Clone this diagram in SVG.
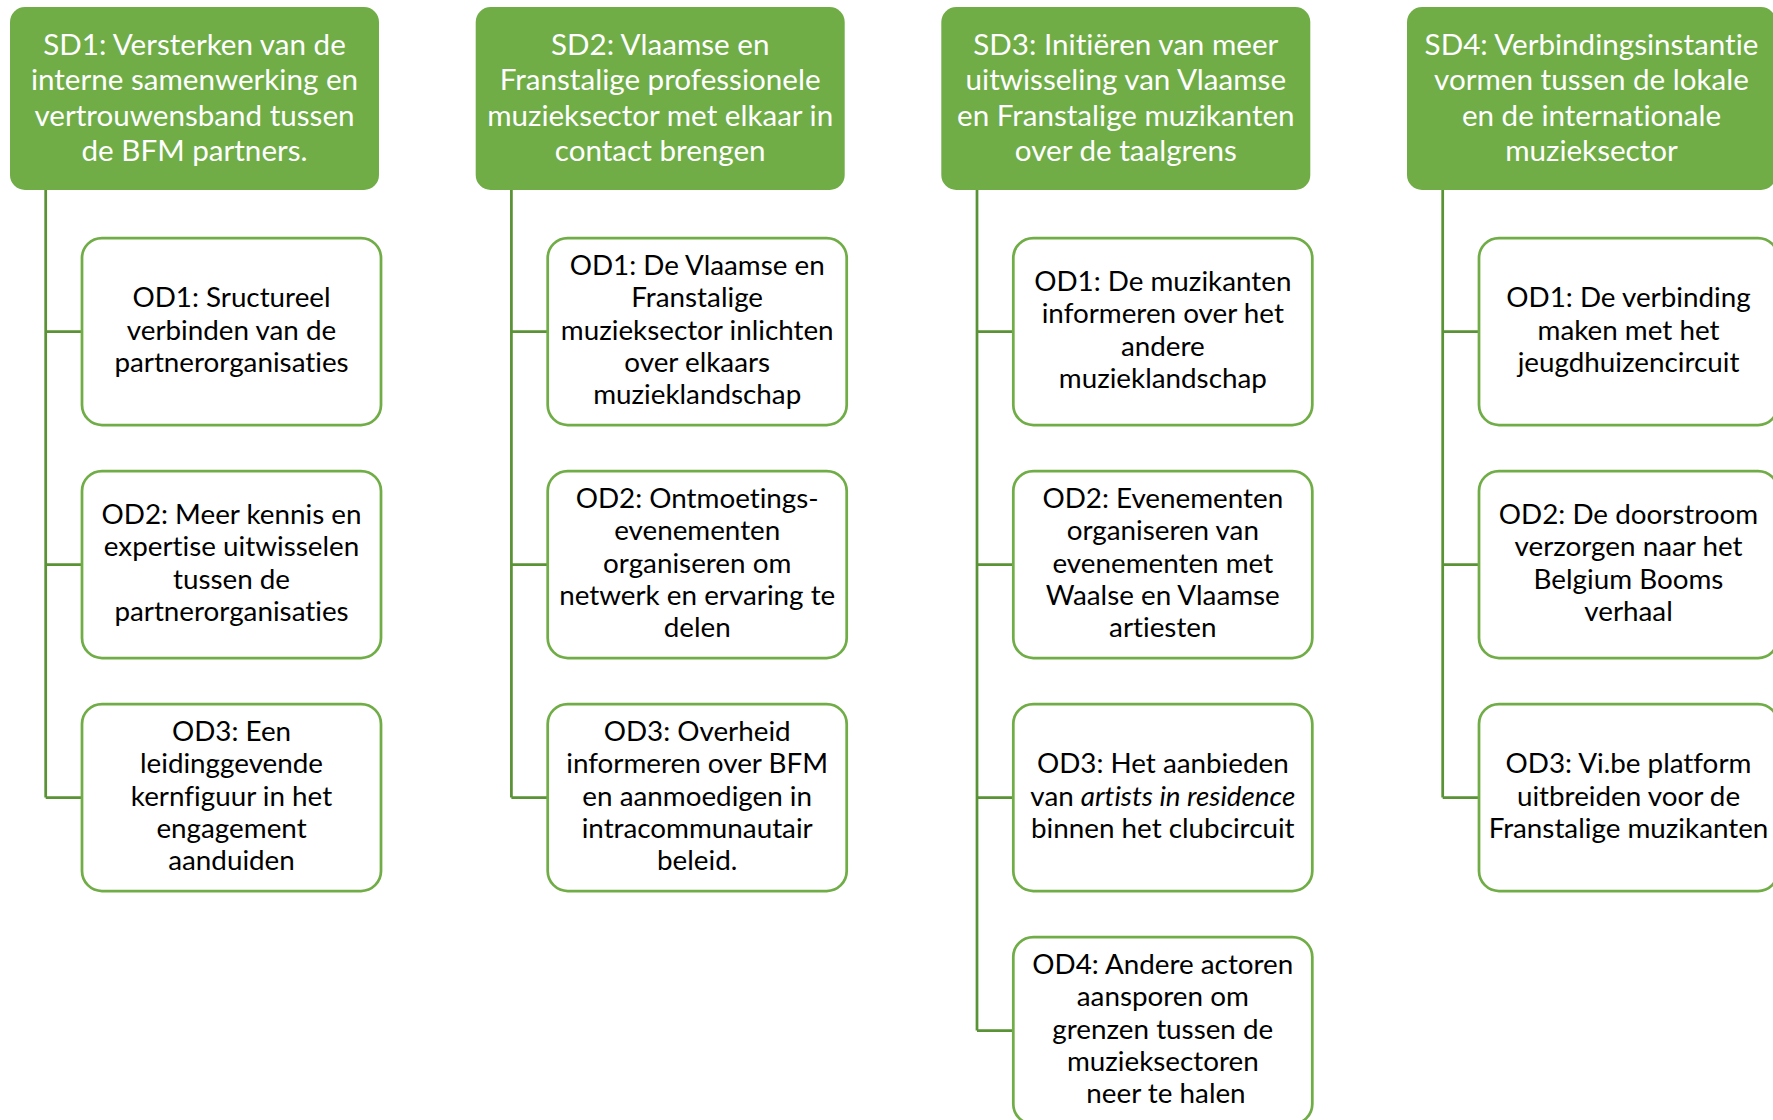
<svg xmlns="http://www.w3.org/2000/svg" width="1773" height="1120" viewBox="0 0 1773 1120">
<style>
.hd{fill:#70AD47;}
.od{fill:#FFFFFF;stroke:#70AD47;stroke-width:2.75;}
.ht{font-family:Lato,"Liberation Sans",sans-serif;font-size:29.6px;fill:#FFFFFF;text-anchor:middle;font-variant-ligatures:none;}
.ot{font-family:Lato,"Liberation Sans",sans-serif;font-size:27.8px;fill:#000000;text-anchor:middle;font-variant-ligatures:none;}
.cn{fill:none;stroke:#5A9236;stroke-width:2.75;}
</style>
<rect width="1773" height="1120" fill="#FFFFFF"/>
<g id="connectors">
<path class="cn" d="M45.7,190V797.5M45.7,331.5H82M45.7,564.5H82M45.7,797.5H82"/>
<path class="cn" d="M511.4,190V797.5M511.4,331.5H547.7M511.4,564.5H547.7M511.4,797.5H547.7"/>
<path class="cn" d="M977,190V1030.5M977,331.5H1013.3M977,564.5H1013.3M977,797.5H1013.3M977,1030.5H1013.3"/>
<path class="cn" d="M1442.7,190V797.5M1442.7,331.5H1479M1442.7,564.5H1479M1442.7,797.5H1479"/>
</g>
<g id="sd1"><rect class="hd" x="10" y="7" width="369" height="183" rx="15"/>
<text class="ht"><tspan x="194.5" y="55">SD1: Versterken van de</tspan><tspan x="194.5" dy="35.3">interne samenwerking en</tspan><tspan x="194.5" dy="35.3">vertrouwensband tussen</tspan><tspan x="194.5" dy="35.3">de BFM partners.</tspan></text></g>
<g id="sd1-od1"><rect class="od" x="82" y="238" width="299" height="187" rx="20"/>
<text class="ot"><tspan x="231.5" y="307.3">OD1: Sructureel</tspan><tspan x="231.5" dy="32.2">verbinden van de</tspan><tspan x="231.5" dy="32.2">partnerorganisaties</tspan></text></g>
<g id="sd1-od2"><rect class="od" x="82" y="471" width="299" height="187" rx="20"/>
<text class="ot"><tspan x="231.5" y="524.2">OD2: Meer kennis en</tspan><tspan x="231.5" dy="32.2">expertise uitwisselen</tspan><tspan x="231.5" dy="32.2">tussen de</tspan><tspan x="231.5" dy="32.2">partnerorganisaties</tspan></text></g>
<g id="sd1-od3"><rect class="od" x="82" y="704" width="299" height="187" rx="20"/>
<text class="ot"><tspan x="231.5" y="741.1">OD3: Een</tspan><tspan x="231.5" dy="32.2">leidinggevende</tspan><tspan x="231.5" dy="32.2">kernfiguur in het</tspan><tspan x="231.5" dy="32.2">engagement</tspan><tspan x="231.5" dy="32.2">aanduiden</tspan></text></g>

<g id="sd2"><rect class="hd" x="475.7" y="7" width="369" height="183" rx="15"/>
<text class="ht"><tspan x="660.2" y="55">SD2: Vlaamse en</tspan><tspan x="660.2" dy="35.3">Franstalige professionele</tspan><tspan x="660.2" dy="35.3">muzieksector met elkaar in</tspan><tspan x="660.2" dy="35.3">contact brengen</tspan></text></g>
<g id="sd2-od1"><rect class="od" x="547.7" y="238" width="299" height="187" rx="20"/>
<text class="ot"><tspan x="697.2" y="275.1">OD1: De Vlaamse en</tspan><tspan x="697.2" dy="32.2">Franstalige</tspan><tspan x="697.2" dy="32.2">muzieksector inlichten</tspan><tspan x="697.2" dy="32.2">over elkaars</tspan><tspan x="697.2" dy="32.2">muzieklandschap</tspan></text></g>
<g id="sd2-od2"><rect class="od" x="547.7" y="471" width="299" height="187" rx="20"/>
<text class="ot"><tspan x="697.2" y="508.1">OD2: Ontmoetings-</tspan><tspan x="697.2" dy="32.2">evenementen</tspan><tspan x="697.2" dy="32.2">organiseren om</tspan><tspan x="697.2" dy="32.2">netwerk en ervaring te</tspan><tspan x="697.2" dy="32.2">delen</tspan></text></g>
<g id="sd2-od3"><rect class="od" x="547.7" y="704" width="299" height="187" rx="20"/>
<text class="ot"><tspan x="697.2" y="741.1">OD3: Overheid</tspan><tspan x="697.2" dy="32.2">informeren over BFM</tspan><tspan x="697.2" dy="32.2">en aanmoedigen in</tspan><tspan x="697.2" dy="32.2">intracommunautair</tspan><tspan x="697.2" dy="32.2">beleid.</tspan></text></g>

<g id="sd3"><rect class="hd" x="941.3" y="7" width="369" height="183" rx="15"/>
<text class="ht"><tspan x="1125.8" y="55">SD3: Initiëren van meer</tspan><tspan x="1125.8" dy="35.3">uitwisseling van Vlaamse</tspan><tspan x="1125.8" dy="35.3">en Franstalige muzikanten</tspan><tspan x="1125.8" dy="35.3">over de taalgrens</tspan></text></g>
<g id="sd3-od1"><rect class="od" x="1013.3" y="238" width="299" height="187" rx="20"/>
<text class="ot"><tspan x="1162.8" y="291.2">OD1: De muzikanten</tspan><tspan x="1162.8" dy="32.2">informeren over het</tspan><tspan x="1162.8" dy="32.2">andere</tspan><tspan x="1162.8" dy="32.2">muzieklandschap</tspan></text></g>
<g id="sd3-od2"><rect class="od" x="1013.3" y="471" width="299" height="187" rx="20"/>
<text class="ot"><tspan x="1162.8" y="508.1">OD2: Evenementen</tspan><tspan x="1162.8" dy="32.2">organiseren van</tspan><tspan x="1162.8" dy="32.2">evenementen met</tspan><tspan x="1162.8" dy="32.2">Waalse en Vlaamse</tspan><tspan x="1162.8" dy="32.2">artiesten</tspan></text></g>
<g id="sd3-od3"><rect class="od" x="1013.3" y="704" width="299" height="187" rx="20"/>
<text class="ot"><tspan x="1162.8" y="773.3">OD3: Het aanbieden</tspan><tspan x="1162.8" dy="32.2">van <tspan font-style="italic">artists in residence</tspan></tspan><tspan x="1162.8" dy="32.2">binnen het clubcircuit</tspan></text></g>
<g id="sd3-od4"><rect class="od" x="1013.3" y="937" width="299" height="187" rx="20"/>
<text class="ot"><tspan x="1162.8" y="974.1">OD4: Andere actoren</tspan><tspan x="1162.8" dy="32.2">aansporen om</tspan><tspan x="1162.8" dy="32.2">grenzen tussen de</tspan><tspan x="1162.8" dy="32.2">muzieksectoren</tspan><tspan x="1166" dy="32.2">neer te halen</tspan></text></g>

<g id="sd4"><rect class="hd" x="1407" y="7" width="369" height="183" rx="15"/>
<text class="ht"><tspan x="1591.5" y="55">SD4: Verbindingsinstantie</tspan><tspan x="1591.5" dy="35.3">vormen tussen de lokale</tspan><tspan x="1591.5" dy="35.3">en de internationale</tspan><tspan x="1591.5" dy="35.3">muzieksector</tspan></text></g>
<g id="sd4-od1"><rect class="od" x="1479" y="238" width="299" height="187" rx="20"/>
<text class="ot"><tspan x="1628.5" y="307.3">OD1: De verbinding</tspan><tspan x="1628.5" dy="32.2">maken met het</tspan><tspan x="1628.5" dy="32.2">jeugdhuizencircuit</tspan></text></g>
<g id="sd4-od2"><rect class="od" x="1479" y="471" width="299" height="187" rx="20"/>
<text class="ot"><tspan x="1628.5" y="524.2">OD2: De doorstroom</tspan><tspan x="1628.5" dy="32.2">verzorgen naar het</tspan><tspan x="1628.5" dy="32.2">Belgium Booms</tspan><tspan x="1628.5" dy="32.2">verhaal</tspan></text></g>
<g id="sd4-od3"><rect class="od" x="1479" y="704" width="299" height="187" rx="20"/>
<text class="ot"><tspan x="1628.5" y="773.3">OD3: Vi.be platform</tspan><tspan x="1628.5" dy="32.2">uitbreiden voor de</tspan><tspan x="1628.5" dy="32.2">Franstalige muzikanten</tspan></text></g>
</svg>
